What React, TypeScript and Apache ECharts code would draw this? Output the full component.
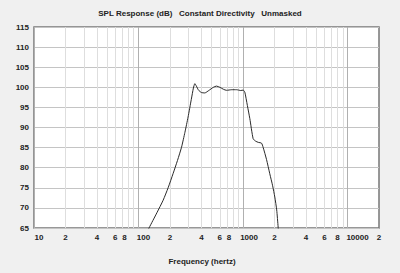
import React, { useEffect, useRef } from "react";
import * as echarts from "echarts";

// Frequency response (Hz) and SPL (dB)
const FREQ = [110, 126, 150, 172, 192, 214, 236, 258, 278, 298, 320, 335, 346, 358, 375, 400, 431, 470, 520, 557, 600, 650, 695, 780, 867, 950, 1003, 1040, 1100, 1162, 1250, 1320, 1400, 1503, 1556, 1680, 1803, 1920, 2014, 2100, 2168, 2230];
const SPL = [62, 65, 68.8, 71.9, 75, 78.5, 81.8, 85.1, 88.8, 92.6, 97, 99.8, 100.9, 100.3, 99.3, 98.7, 98.6, 99.2, 100.0, 100.3, 100.0, 99.5, 99.25, 99.4, 99.4, 99.2, 99.3, 98.8, 95.5, 92.2, 87.2, 86.6, 86.3, 86.1, 85.1, 82.0, 78.5, 75.5, 72.7, 69.5, 65.2, 61];

// Axis ticks
const X_LABEL_FREQS = [10, 20, 40, 60, 80, 100, 200, 400, 600, 800, 1000, 2000, 4000, 6000, 8000, 10000, 20000];
const DECADE_FREQS = [10, 100, 1000, 10000];
const MINOR_FREQS = [20, 30, 40, 50, 60, 70, 80, 90, 200, 300, 400, 500, 600, 700, 800, 900, 2000, 3000, 4000, 5000, 6000, 7000, 8000, 9000];
const X_MIN_HZ = 10;
const X_MAX_HZ = 20000;
const Y_MIN = 65;
const Y_MAX = 115;
const Y_STEP = 5;

const TITLE = "SPL Response (dB)   Constant Directivity   Unmasked";
const X_NAME = "Frequency (hertz)";

const FONT = "'Liberation Sans', Arial, sans-serif";

export default function App() {
  const ref = useRef<HTMLDivElement>(null);
  useEffect(() => {
    if (!ref.current) return;
    const chart = echarts.init(ref.current, null, { renderer: "svg" });
    const lg = (f: number) => Math.log10(f);
    const labelText = (v: number) => {
      const f = Math.round(Math.pow(10, v));
      let txt: string;
      if (DECADE_FREQS.includes(f)) txt = String(f);
      else txt = String(Math.round(f / Math.pow(10, Math.floor(Math.log10(f) + 1e-9))));
      let style = "n";
      if (f === 10) style = "d2";
      else if (f === 100) style = "d3";
      else if (f === 1000) style = "d4";
      else if (f === 10000) style = "d5";
      else if (f === 80 || f === 800) style = "e";
      return "{" + style + "|" + txt + "}";
    };
    const labelBase = { fontFamily: FONT, fontSize: 8, fontWeight: "bold" as const, color: "#222" };
    chart.setOption({
      animation: false,
      backgroundColor: "#f0f0f0",
      title: [
        {
          text: TITLE,
          left: "center",
          top: 4,
          textStyle: { fontFamily: FONT, fontSize: 8, fontWeight: "bold", color: "#222" },
        },
        {
          text: X_NAME,
          left: 197,
          top: 252,
          textAlign: "center",
          textStyle: { fontFamily: FONT, fontSize: 8, fontWeight: "bold", color: "#222" },
        },
      ],
      grid: {
        left: 34,
        right: 21,
        top: 27,
        bottom: 45,
        show: true,
        backgroundColor: "#ffffff",
        borderColor: "#777777",
        borderWidth: 1.5,
      },
      xAxis: [
        {
          type: "value",
          min: lg(X_MIN_HZ),
          max: lg(X_MAX_HZ),
          axisLine: { show: false },
          axisTick: { show: false, customValues: MINOR_FREQS.map(lg) },
          splitLine: { show: true, lineStyle: { color: "#dedede", width: 1 } },
          axisLabel: {
            customValues: X_LABEL_FREQS.map(lg),
            formatter: labelText,
            margin: 5,
            ...labelBase,
            rich: {
              n: { ...labelBase },
              d2: { ...labelBase, padding: [0, 0, 0, 10] },
              d3: { ...labelBase, padding: [0, 0, 0, 10] },
              d4: { ...labelBase, padding: [0, 0, 0, 12] },
              d5: { ...labelBase, padding: [0, 0, 0, 20] },
              e: { ...labelBase, padding: [0, 8, 0, 0] },
            },
          },
        },
        {
          type: "value",
          min: lg(X_MIN_HZ),
          max: lg(X_MAX_HZ),
          position: "bottom",
          axisLine: { show: false },
          axisTick: { show: false, customValues: DECADE_FREQS.map(lg) },
          axisLabel: { show: false },
          splitLine: { show: true, lineStyle: { color: "#b0b0b0", width: 1 } },
        },
      ],
      yAxis: {
        type: "value",
        min: Y_MIN,
        max: Y_MAX,
        interval: Y_STEP,
        axisLine: { show: false },
        axisTick: { show: false },
        splitLine: { show: true, lineStyle: { color: "#c4c4c4", width: 1 } },
        axisLabel: { margin: 5, ...labelBase },
      },
      series: [
        {
          type: "line",
          xAxisIndex: 0,
          data: FREQ.map((f, i) => [lg(f), SPL[i]]),
          showSymbol: false,
          symbol: "none",
          smooth: 0.2,
          clip: true,
          lineStyle: { color: "#2a2a2a", width: 1 },
        },
      ],
    });
    return () => chart.dispose();
  }, []);
  return (
    <div
      ref={ref}
      style={{ position: "fixed", left: 0, top: 0, width: 400, height: 273 }}
    />
  );
}
